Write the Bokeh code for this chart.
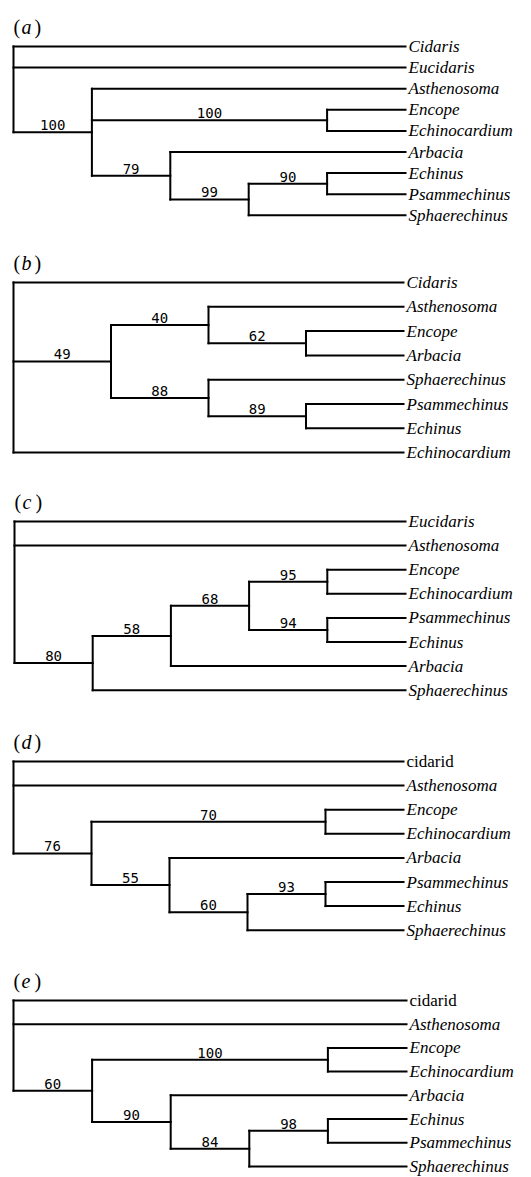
from bokeh.plotting import figure
from bokeh.layouts import column
from bokeh.models import Range1d, ColumnDataSource
from bokeh.core.properties import value
from bokeh.embed import file_html
from bokeh.resources import INLINE

# ---------------- data ----------------
panel_letters = ["a", "b", "c", "d", "e"]

taxa_a = ["Cidaris", "Eucidaris", "Asthenosoma", "Encope", "Echinocardium",
          "Arbacia", "Echinus", "Psammechinus", "Sphaerechinus"]
clades_a = [
    (["Asthenosoma", "Encope", "Echinocardium", "Arbacia", "Echinus", "Psammechinus", "Sphaerechinus"], 100),
    (["Encope", "Echinocardium"], 100),
    (["Arbacia", "Echinus", "Psammechinus", "Sphaerechinus"], 79),
    (["Echinus", "Psammechinus", "Sphaerechinus"], 99),
    (["Echinus", "Psammechinus"], 90),
]

taxa_b = ["Cidaris", "Asthenosoma", "Encope", "Arbacia", "Sphaerechinus",
          "Psammechinus", "Echinus", "Echinocardium"]
clades_b = [
    (["Asthenosoma", "Encope", "Arbacia", "Sphaerechinus", "Psammechinus", "Echinus"], 49),
    (["Asthenosoma", "Encope", "Arbacia"], 40),
    (["Encope", "Arbacia"], 62),
    (["Sphaerechinus", "Psammechinus", "Echinus"], 88),
    (["Psammechinus", "Echinus"], 89),
]

taxa_c = ["Eucidaris", "Asthenosoma", "Encope", "Echinocardium", "Psammechinus",
          "Echinus", "Arbacia", "Sphaerechinus"]
clades_c = [
    (["Encope", "Echinocardium", "Psammechinus", "Echinus", "Arbacia", "Sphaerechinus"], 80),
    (["Encope", "Echinocardium", "Psammechinus", "Echinus", "Arbacia"], 58),
    (["Encope", "Echinocardium", "Psammechinus", "Echinus"], 68),
    (["Encope", "Echinocardium"], 95),
    (["Psammechinus", "Echinus"], 94),
]

taxa_d = ["cidarid", "Asthenosoma", "Encope", "Echinocardium", "Arbacia",
          "Psammechinus", "Echinus", "Sphaerechinus"]
clades_d = [
    (["Encope", "Echinocardium", "Arbacia", "Psammechinus", "Echinus", "Sphaerechinus"], 76),
    (["Encope", "Echinocardium"], 70),
    (["Arbacia", "Psammechinus", "Echinus", "Sphaerechinus"], 55),
    (["Psammechinus", "Echinus", "Sphaerechinus"], 60),
    (["Psammechinus", "Echinus"], 93),
]

taxa_e = ["cidarid", "Asthenosoma", "Encope", "Echinocardium", "Arbacia",
          "Echinus", "Psammechinus", "Sphaerechinus"]
clades_e = [
    (["Encope", "Echinocardium", "Arbacia", "Echinus", "Psammechinus", "Sphaerechinus"], 60),
    (["Encope", "Echinocardium"], 100),
    (["Arbacia", "Echinus", "Psammechinus", "Sphaerechinus"], 90),
    (["Echinus", "Psammechinus", "Sphaerechinus"], 84),
    (["Echinus", "Psammechinus"], 98),
]

upright_taxa = ["cidarid"]

# ---------------- layout (pixels) ----------------
W = 531
# figure height, first-leaf offset, leaf spacing, root x, tip x (canvas px)
layout_px = [
    (232, 46, 21.1, 13, 405),
    (234, 50, 24.3, 13, 403),
    (240, 55, 24.1, 14, 405),
    (238, 55, 24.1, 13, 403),
    (233, 56, 23.7, 13, 406),
]

panels = [(taxa_a, clades_a), (taxa_b, clades_b), (taxa_c, clades_c),
          (taxa_d, clades_d), (taxa_e, clades_e)]


def build_tree(taxa, clades):
    sets = [frozenset([t]) for t in taxa] + [frozenset(m) for m, _ in clades] + [frozenset(taxa)]
    support = [None] * len(taxa) + [s for _, s in clades] + [None]
    n = len(sets)
    parent = [None] * n
    for i in range(n):
        best = None
        for j in range(n):
            if i != j and sets[i] < sets[j]:
                if best is None or len(sets[j]) < len(sets[best]):
                    best = j
        parent[i] = best
    children = {i: [j for j in range(n) if parent[j] == i] for i in range(n)}
    order = sorted(range(n), key=lambda k: len(sets[k]))
    height = [0] * n
    ypos = [0.0] * n
    for k in order:
        if children[k]:
            height[k] = 1 + max(height[c] for c in children[k])
            cy = [ypos[c] for c in children[k]]
            ypos[k] = (min(cy) + max(cy)) / 2.0
        else:
            ypos[k] = float(taxa.index(next(iter(sets[k]))))
    D = max(height)
    xpos = [D - h for h in height]
    return sets, support, parent, children, xpos, ypos, D


figs = []
for (taxa, clades), letter, (H, c0, s, rx, tx) in zip(panels, panel_letters, layout_px):
    sets, support, parent, children, xpos, ypos, D = build_tree(taxa, clades)
    u = (tx - rx) / D
    x0 = -rx / u
    p = figure(width=W, height=H, output_backend="svg", toolbar_location=None,
               x_range=Range1d(x0, x0 + W / u),
               y_range=Range1d((H - c0) / s, -c0 / s),
               min_border=0, min_border_left=0, min_border_right=0,
               min_border_top=0, min_border_bottom=0)
    p.axis.visible = False
    p.xgrid.visible = False
    p.ygrid.visible = False
    p.outline_line_color = None
    p.background_fill_color = "white"

    hx0, hx1, hy = [], [], []
    vx, vy0, vy1 = [], [], []
    lx, ly, lt = [], [], []
    for k in range(len(sets)):
        if parent[k] is not None:
            hx0.append(xpos[parent[k]]); hx1.append(xpos[k]); hy.append(ypos[k])
            if support[k] is not None:
                lx.append((xpos[parent[k]] + xpos[k]) / 2.0)
                ly.append(ypos[k])
                lt.append(str(support[k]))
        if children[k]:
            cy = [ypos[c] for c in children[k]]
            vx.append(xpos[k]); vy0.append(min(cy)); vy1.append(max(cy))

    p.segment(x0=hx0, y0=hy, x1=hx1, y1=hy, line_color="black", line_width=2, line_cap="square")
    p.segment(x0=vx, y0=vy0, x1=vx, y1=vy1, line_color="black", line_width=2, line_cap="square")

    p.text(x=lx, y=ly, text=lt, text_font=value("DejaVu Sans Mono"), text_font_size="14px",
           text_align="center", text_baseline="bottom", y_offset=-2, text_color="black")

    src = ColumnDataSource(dict(
        x=[D] * len(taxa), y=list(range(len(taxa))), t=taxa,
        st=["normal" if t in upright_taxa else "italic" for t in taxa]))
    p.text(x="x", y="y", text="t", source=src, text_font=value("Liberation Serif"),
           text_font_style="st", text_font_size="17px", text_align="left",
           text_baseline="middle", x_offset=3, text_color="black")

    # panel label "(x)"
    p.text(x=[0, 0], y=[0, 0], text=["(", ")"], x_offset=[0, 21], y_offset=-20,
           text_font=value("Liberation Serif"), text_font_size="20px",
           text_align="left", text_baseline="middle", text_color="black")
    p.text(x=[0], y=[0], text=[letter], x_offset=8, y_offset=-20,
           text_font=value("Liberation Serif"), text_font_style="italic", text_font_size="20px",
           text_align="left", text_baseline="middle", text_color="black")
    figs.append(p)

layout = column(*figs, spacing=0)
open("out.html", "w").write(file_html(layout, INLINE))
